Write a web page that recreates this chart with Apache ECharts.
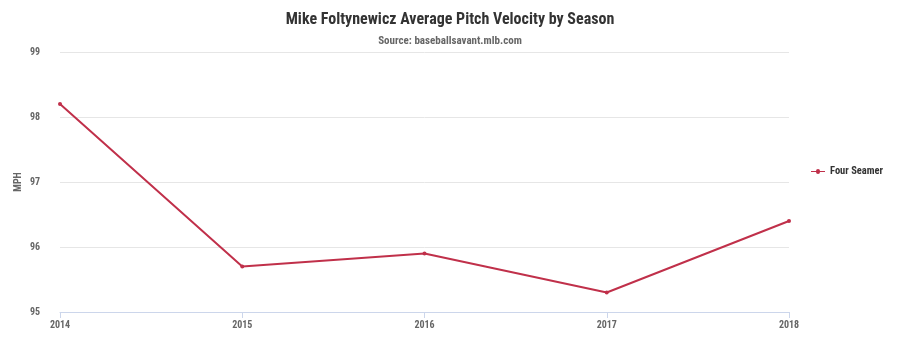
<!DOCTYPE html>
<html><head><meta charset="utf-8">
<script src="https://cdn.jsdelivr.net/npm/echarts@6/dist/echarts.min.js"></script>
<style>html,body{margin:0;padding:0;background:#fff}#c{width:900px;height:343px}</style>
</head><body><div id="c"></div>
<script>
const seasons = ['2014','2015','2016','2017','2018'];
const fourSeamer = [98.2, 95.7, 95.9, 95.3, 96.4];
const seriesName = 'Four Seamer';
const FONT = '"Liberation Sans Narrow","Roboto Condensed",Roboto,sans-serif';
const chart = echarts.init(document.getElementById('c'));
chart.setOption({
  animation: false,
  title: {
    text: 'Mike Foltynewicz Average Pitch Velocity by Season',
    subtext: 'Source: baseballsavant.mlb.com',
    left: 'center', top: 7, itemGap: 8,
    textStyle: {fontFamily: FONT, fontSize: 16, fontWeight: 'bold', color: '#333'},
    subtextStyle: {fontFamily: FONT, fontSize: 11, fontWeight: 'bold', color: '#666'}
  },
  legend: {
    orient: 'vertical', left: 806, top: 'middle',
    itemWidth: 14, itemHeight: 8, itemGap: 5,
    textStyle: {fontFamily: FONT, fontSize: 10.5, fontWeight: 'bold', color: '#333'},
    data: [{name: seriesName, icon: 'path://M0,4L5,4A2,2 0 1 1 9,4L14,4L14,5L9,5A2,2 0 1 1 5,5L0,5Z'}]
  },
  grid: {left: 60, right: 111, top: 52, bottom: 31},
  xAxis: {
    type: 'category', data: seasons, boundaryGap: false,
    axisLine: {lineStyle: {color: '#ccd6eb'}},
    axisTick: {show: true, length: 6, lineStyle: {color: '#ccd6eb'}},
    axisLabel: {fontFamily: FONT, fontSize: 10, fontWeight: 'bold', color: '#666', margin: 8}
  },
  yAxis: {
    type: 'value', min: 95, max: 99, interval: 1,
    name: 'MPH', nameLocation: 'middle', nameGap: 37, nameRotate: 90,
    nameMoveOverlap: false,
    nameTextStyle: {fontFamily: FONT, fontSize: 10, fontWeight: 'bold', color: '#666'},
    axisLine: {show: false}, axisTick: {show: false},
    axisLabel: {fontFamily: FONT, fontSize: 10, fontWeight: 'bold', color: '#666', margin: 20},
    splitLine: {lineStyle: {color: '#e6e6e6'}}
  },
  series: [{
    name: seriesName, type: 'line', data: fourSeamer,
    symbol: 'circle', symbolSize: 4,
    lineStyle: {color: '#c0304a', width: 2},
    itemStyle: {color: '#c0304a'}
  }]
});
</script></body></html>
